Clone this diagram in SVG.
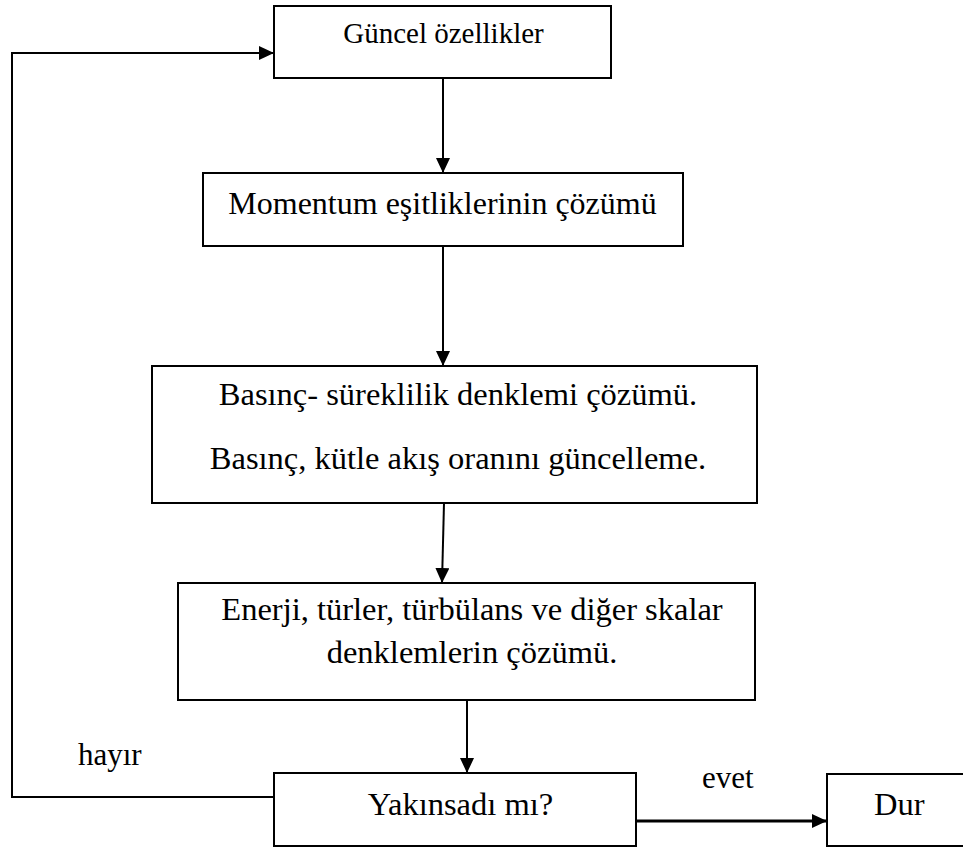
<svg xmlns="http://www.w3.org/2000/svg" width="963" height="851" viewBox="0 0 963 851">
<style>
.box{fill:#fff;stroke:#000;stroke-width:2}
.t{font-family:"Liberation Serif","Times New Roman",serif;fill:#000;font-size:32.5px;text-anchor:middle}
.c{fill:none;stroke:#000;stroke-width:2}
</style>
<defs>
<marker id="ah" viewBox="0 0 15 14" refX="15" refY="7" markerWidth="15" markerHeight="14" markerUnits="userSpaceOnUse" orient="auto">
<path d="M0,0 L15,7 L0,14 Z" fill="#000"/>
</marker>
</defs>
<rect width="963" height="851" fill="#fff"/>
<g id="connectors">
<polyline class="c" points="274,797 12,797 12,53 274,53" marker-end="url(#ah)"/>
<line class="c" x1="443" y1="78" x2="443" y2="173" marker-end="url(#ah)"/>
<line class="c" x1="443" y1="246" x2="443" y2="366" marker-end="url(#ah)"/>
<line class="c" x1="444" y1="503" x2="442" y2="583" marker-end="url(#ah)"/>
<line class="c" x1="467" y1="700" x2="467" y2="773" marker-end="url(#ah)"/>
<line class="c" style="stroke-width:3" x1="636" y1="821" x2="827" y2="821" marker-end="url(#ah)"/>
<text class="t" style="text-anchor:start;font-size:31px" x="78" y="765">hayır</text>
<text class="t" style="text-anchor:start;font-size:31px" x="702" y="788">evet</text>
</g>
<g id="n1">
<rect class="box" x="274" y="6" width="337" height="72"/>
<text class="t" style="font-size:29px" x="443.5" y="43">Güncel özellikler</text>
</g>
<g id="n2">
<rect class="box" x="203" y="173" width="480" height="73"/>
<text class="t" style="font-size:32px" x="442.5" y="214">Momentum eşitliklerinin çözümü</text>
</g>
<g id="n3">
<rect class="box" x="152" y="366" width="605" height="137"/>
<text class="t" x="458" y="405">Basınç- süreklilik denklemi çözümü.</text>
<text class="t" x="458" y="469">Basınç, kütle akış oranını güncelleme.</text>
</g>
<g id="n4">
<rect class="box" x="178" y="583" width="577" height="117"/>
<text class="t" x="472" y="620">Enerji, türler, türbülans ve diğer skalar</text>
<text class="t" x="472" y="663">denklemlerin çözümü.</text>
</g>
<g id="n5">
<rect class="box" x="274" y="773" width="362" height="73"/>
<text class="t" x="460.5" y="815">Yakınsadı mı?</text>
</g>
<g id="n6">
<rect class="box" x="827" y="774" width="140" height="72"/>
<text class="t" style="text-anchor:start" x="874" y="815">Dur</text>
</g>
</svg>
